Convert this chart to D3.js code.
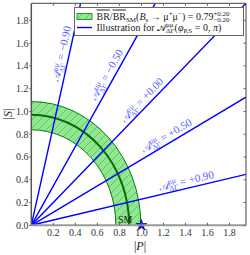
<!DOCTYPE html>
<html>
<head>
<meta charset="utf-8">
<script src="https://cdn.jsdelivr.net/npm/d3@7"></script>
<style>
  body { margin: 0; background: #fff; }
  svg text { font-family: "Liberation Serif", "DejaVu Serif", serif; }
</style>
</head>
<body>
<svg id="chart" width="250" height="255"></svg>
<script>
// A_DeltaGamma values for the illustration lines
const aValues = [-0.90, -0.50, 0.00, 0.50, 0.90];
// band: intercepts of inner / central / outer ellipse on |P| and |S| axes
const bandP = [0.768, 0.889, 0.995];
const bandS = [0.839, 0.971, 1.087];
const xTicks = [0.2, 0.4, 0.6, 0.8, 1.0, 1.2, 1.4, 1.6, 1.8];
const yTicks = [0.0, 0.2, 0.4, 0.6, 0.8, 1.0, 1.2, 1.4, 1.6, 1.8];
const smPoint = [1.0, 0.0];

const svg = d3.select('#chart');
const x = d3.scaleLinear().domain([0, 1.95]).range([31.3, 246]);
const y = d3.scaleLinear().domain([0, 1.95]).range([225.3, 3.3]);

// math-ish text builder: parts are strings or {sup}, {sub}, {sup, sub}, {ov}, {it}
function mathText(text, parts, size) {
  let cur = 0, pend = 0;
  parts.forEach(p => {
    if (typeof p === 'string') p = {t: p};
    if (p.sup !== undefined && p.sub !== undefined) {
      let s1 = text.append('tspan').attr('dx', pend).attr('dy', -0.38*size - cur)
        .style('font-size', (0.7*size) + 'px').text(p.sup);
      cur = -0.38*size;
      let w1 = s1.node().getComputedTextLength();
      let s2 = text.append('tspan').attr('dx', -w1).attr('dy', 0.28*size - cur)
        .style('font-size', (0.7*size) + 'px').text(p.sub);
      cur = 0.28*size;
      let w2 = s2.node().getComputedTextLength();
      pend = Math.max(0, w1 - w2);
      return;
    }
    let target = 0, fs = size;
    if (p.sup !== undefined) { target = -0.38*size; fs = 0.7*size; p.t = p.sup; }
    if (p.sub !== undefined) { target = 0.22*size; fs = 0.7*size; p.t = p.sub; }
    let ts = text.append('tspan').attr('dx', pend).attr('dy', target - cur)
      .style('font-size', fs + 'px').text(p.t);
    if (p.it) ts.style('font-style', 'italic');
    if (p.ov) ts.style('text-decoration', 'overline');
    cur = target; pend = 0;
  });
  return text;
}

svg.append('defs').append('clipPath').attr('id', 'clip')
  .append('rect').attr('x', x(0)).attr('y', y(1.95))
  .attr('width', x(1.95) - x(0)).attr('height', y(0) - y(1.95));

const hatch = svg.select('defs').append('pattern').attr('id', 'hatch')
  .attr('patternUnits', 'userSpaceOnUse').attr('width', 8).attr('height', 8);
hatch.append('rect').attr('width', 8).attr('height', 8).attr('fill', '#8fe88f');
hatch.append('path').attr('d', 'M0,8L8,0M-2,2L2,-2M6,10L10,6')
  .attr('stroke', '#2f8f2f').attr('stroke-width', 0.6).attr('opacity', 0.7);

const plot = svg.append('g').attr('clip-path', 'url(#clip)');

function arcPath(a, b) {
  return `M${x(a)},${y(0)}A${x(a) - x(0)},${y(0) - y(b)} 0 0 0 ${x(0)},${y(b)}`;
}
// band
const rin = [bandP[0], bandS[0]], rout = [bandP[2], bandS[2]];
plot.append('path')
  .attr('d', `M${x(rout[0])},${y(0)}A${x(rout[0]) - x(0)},${y(0) - y(rout[1])} 0 0 0 ${x(0)},${y(rout[1])}` +
             `L${x(0)},${y(rin[1])}A${x(rin[0]) - x(0)},${y(0) - y(rin[1])} 0 0 1 ${x(rin[0])},${y(0)}Z`)
  .attr('fill', 'url(#hatch)').attr('stroke', 'none');
[0, 2].forEach(i => plot.append('path').attr('d', arcPath(bandP[i], bandS[i]))
  .attr('fill', 'none').attr('stroke', '#0a7a0a').attr('stroke-width', 1));
plot.append('path').attr('d', arcPath(bandP[1], bandS[1]))
  .attr('fill', 'none').attr('stroke', '#0a6a0a').attr('stroke-width', 2);

// illustration lines
const labelPos = [174, 168, 167, 162, 161];
aValues.forEach((a, i) => {
  const slope = Math.sqrt((1 - a) / (1 + a));
  const pEnd = Math.min(1.95, 1.95 / slope);
  plot.append('line')
    .attr('x1', x(0)).attr('y1', y(0))
    .attr('x2', x(pEnd)).attr('y2', y(pEnd * slope))
    .attr('stroke', '#0000ff').attr('stroke-width', 1.4);
  const dx = x(1) - x(0), dy = y(0) - y(slope);
  const len = Math.hypot(dx, dy);
  const ang = -Math.atan2(dy, dx) * 180 / Math.PI;
  const cx = x(0) + dx / len * labelPos[i], cy = y(0) - dy / len * labelPos[i];
  const t = plot.append('text')
    .attr('transform', `translate(${cx},${cy}) rotate(${ang})`)
    .attr('y', -4).attr('text-anchor', 'middle')
    .attr('fill', '#5e5eff').style('font-size', '11px');
  const sign = a < 0 ? '\u2212' : '+';
  mathText(t, [{t: '\ud835\udc9c'}, {sup: '\u03bc\u03bc', sub: '\u0394\u0393'},
    ' = ' + sign + Math.abs(a).toFixed(2)], 11);
});

// SM point
svg.append('text').attr('x', 118).attr('y', 222.5).attr('fill', '#222')
  .style('font-size', '10px').text('SM');
svg.append('path')
  .attr('d', d3.symbol(d3.symbolStar).size(38)())
  .attr('transform', `translate(${x(smPoint[0])},${y(smPoint[1])})`)
  .attr('fill', '#0000ee').attr('stroke', '#000080').attr('stroke-width', 0.6);

// spines
const sp = svg.append('g');
sp.append('line').attr('x1', x(0)).attr('x2', x(1.95)).attr('y1', y(1.95)).attr('y2', y(1.95))
  .attr('stroke', '#444').attr('stroke-width', 1);
sp.append('line').attr('x1', x(1.95)).attr('x2', x(1.95)).attr('y1', y(0)).attr('y2', y(1.95))
  .attr('stroke', '#444').attr('stroke-width', 1);
sp.append('line').attr('x1', x(0)).attr('x2', x(0)).attr('y1', y(0)).attr('y2', y(1.95))
  .attr('stroke', '#555').attr('stroke-width', 1.5);
sp.append('line').attr('x1', x(0) - 1).attr('x2', x(1.95)).attr('y1', y(0)).attr('y2', y(0))
  .attr('stroke', '#9a9a9a').attr('stroke-width', 2);

// ticks
xTicks.forEach(v => {
  sp.append('line').attr('x1', x(v)).attr('x2', x(v)).attr('y1', y(0)).attr('y2', y(0) - 2.5).attr('stroke', '#666');
  sp.append('line').attr('x1', x(v)).attr('x2', x(v)).attr('y1', y(1.95)).attr('y2', y(1.95) + 2.5).attr('stroke', '#666');
  sp.append('text').attr('x', x(v)).attr('y', 236).attr('text-anchor', 'middle')
    .attr('fill', '#333').style('font-size', '10px').text(v.toFixed(1));
});
yTicks.forEach(v => {
  sp.append('line').attr('x1', x(0) - 2).attr('x2', x(0)).attr('y1', y(v)).attr('y2', y(v)).attr('stroke', '#666');
  sp.append('line').attr('x1', x(1.95)).attr('x2', x(1.95) - 2.5).attr('y1', y(v)).attr('y2', y(v)).attr('stroke', '#666');
  sp.append('text').attr('x', 28.5).attr('y', y(v) + 3.4).attr('text-anchor', 'end')
    .attr('fill', '#333').style('font-size', '10px').text(v.toFixed(1));
});

// axis labels
mathText(svg.append('text').attr('x', 140).attr('y', 250).attr('text-anchor', 'middle')
  .attr('fill', '#222').style('font-size', '12px'), ['|', {t: 'P', it: true}, '|'], 12);
mathText(svg.append('text').attr('transform', 'translate(12,114) rotate(-90)')
  .attr('text-anchor', 'middle').attr('fill', '#222').style('font-size', '12px'),
  ['|', {t: 'S', it: true}, '|'], 12);

// legend
const lg = svg.append('g');
lg.append('rect').attr('x', 74.5).attr('y', 7.5).attr('width', 169).attr('height', 28)
  .attr('fill', '#fff').attr('stroke', '#666').attr('stroke-width', 1);
lg.append('rect').attr('x', 77).attr('y', 13.5).attr('width', 15).attr('height', 6)
  .attr('fill', 'url(#hatch)').attr('stroke', '#0a7a0a').attr('stroke-width', 0.8);
lg.append('line').attr('x1', 77).attr('x2', 92).attr('y1', 27.5).attr('y2', 27.5)
  .attr('stroke', '#0000ff').attr('stroke-width', 1.4);
mathText(lg.append('text').attr('x', 96.5).attr('y', 19.5).attr('fill', '#222').style('font-size', '10px'),
  [{t: 'BR', ov: true}, '/', {t: 'BR', ov: true}, {sub: 'SM'}, '(', {t: 'B', it: true}, {sub: 's'},
   ' \u2192 \u03bc', {sup: '+'}, '\u03bc', {sup: '\u2212'}, ') = 0.79', {sup: '+0.20', sub: '\u22120.20'}], 10);
mathText(lg.append('text').attr('x', 96.5).attr('y', 30.5).attr('fill', '#222').style('font-size', '10px'),
  ['Illustration for \ud835\udc9c', {sup: '\u03bc\u03bc', sub: '\u0394\u0393'}, '(',
   {t: '\u03c6', it: true}, {sub: 'P,S'}, ' = 0, ', {t: '\u03c0', it: true}, ')'], 10);
</script>
</body>
</html>
